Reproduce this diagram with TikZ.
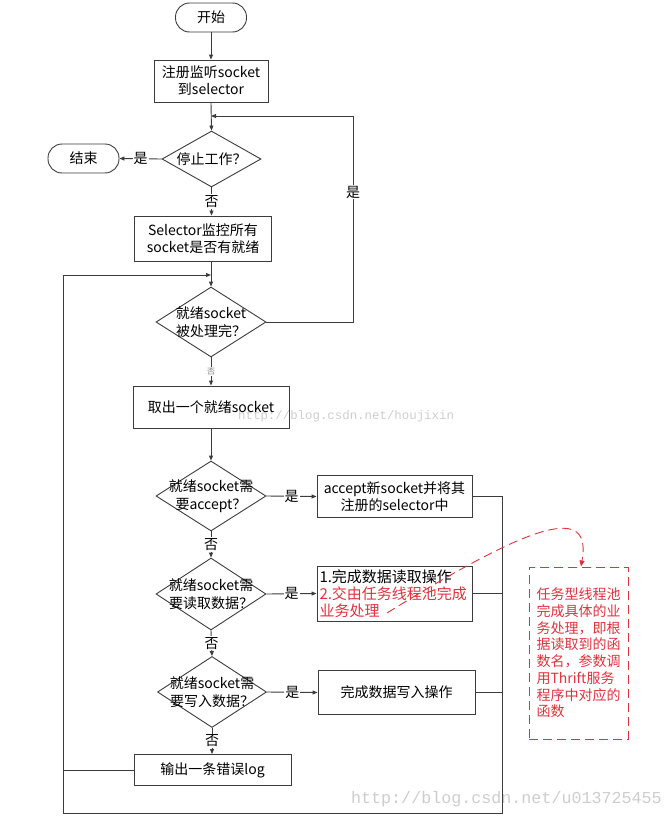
\documentclass[tikz,border=0pt]{standalone}
\usepackage{fontspec}
\setmainfont{Noto Sans CJK SC}
\newfontfamily\wmfont{Liberation Mono}
\usetikzlibrary{shapes.geometric,arrows.meta}
\definecolor{ln}{HTML}{3C3C3C}
\definecolor{rd}{HTML}{E0323C}
\definecolor{wm}{HTML}{CDCDCD}
\begin{document}
\begin{tikzpicture}[x=1pt,y=-1pt,
  every node/.style={font=\fontsize{14}{17}\selectfont, text=black},
  term/.style={draw=ln, line width=0.9pt, rounded corners=14pt, minimum height=29pt, minimum width=71pt, inner sep=0pt},
  box/.style={draw=ln, line width=0.9pt, align=center, inner sep=2pt},
  dia/.style={draw=ln, line width=0.9pt, diamond, inner sep=0pt, minimum width=110pt, minimum height=70pt},
  dtext/.style={align=center, inner sep=0pt, font=\fontsize{14}{18}\selectfont},
  conn/.style={draw=ln, line width=0.9pt},
  arr/.style={conn, -{Triangle[length=5pt,width=4pt]}},
  lbl/.style={fill=white, inner sep=1pt},
  note/.style={draw=rd, color=rd, line width=1pt, dash pattern=on 9pt off 5pt, text=rd, align=left, minimum width=99pt, minimum height=172pt, inner sep=3pt, font=\fontsize{14}{16.7}\selectfont},
  wmtext/.style={text=wm, inner sep=0pt}
]
\useasboundingbox (0,0) rectangle (668,819);

% watermarks (behind everything)
\node[wmtext, anchor=west, font=\wmfont\fontsize{12.4}{14}\selectfont] (wm1) at (238,416) {http://blog.csdn.net/houjixin};
\node[wmtext, anchor=east, font=\wmfont\fontsize{16.7}{19}\selectfont] (wm2) at (662,799) {http://blog.csdn.net/u013725455};

% nodes
\node[term] (start) at (211,17.5) {开始};
\node[term] (end) at (83.5,158.5) {结束};
\node[box, minimum width=114pt, minimum height=42pt] (reg) at (211,81) {注册监听socket\\到selector};
\node[dia, minimum width=99pt, minimum height=56pt] (d1) at (211.5,159) {};
\node[dtext] (d1t) at (d1) {停止工作？};
\node[box, minimum width=137pt, minimum height=45pt] (sel) at (203,238.5) {Selector监控所有\\socket是否有就绪};
\node[dia] (d2) at (211,322) {};
\node[dtext] (d2t) at (d2) {就绪socket\\被处理完？};
\node[box, minimum width=156pt, minimum height=42pt] (take) at (211,407) {取出一个就绪socket};
\node[dia] (d3) at (211,496) {};
\node[dtext] (d3t) at (d3) {就绪socket需\\要accept？};
\node[box, minimum width=155pt, minimum height=42pt] (acc) at (394.5,496.5) {accept新socket并将其\\注册的selector中};
\node[dia, minimum height=72pt] (d4) at (211,594) {};
\node[dtext] (d4t) at (d4) {就绪socket需\\要读取数据？};
\node[box, minimum width=155pt, minimum height=55pt, align=left, text width=150pt, inner sep=2.5pt, font=\fontsize{15}{17}\selectfont] (rdb) at (394.5,593.5) {1.完成数据读取操作\\\textcolor{rd}{2.交由任务线程池完成}\\\textcolor{rd}{业务处理}};
\node[dia, minimum width=109pt, minimum height=71pt] (d5) at (212,692) {};
\node[dtext] (d5t) at (d5) {就绪socket需\\要写入数据？};
\node[box, minimum width=157pt, minimum height=44pt] (wr) at (396.5,692.5) {完成数据写入操作};
\node[box, minimum width=157pt, minimum height=31pt] (err) at (212.5,770) {输出一条错误log};
\node[note] (nt) at (578.5,653) {任务型线程池\\完成具体的业\\务处理，即根\\据读取到的函\\数名，参数调\\用Thrift服务\\程序中对应的\\函数};

% junction coordinates
\coordinate (j1) at (211,116);
\coordinate (r1) at (353,116);
\coordinate (j2) at (211,275);
\coordinate (lb) at (63,813);
\coordinate (rb) at (502,813);
\coordinate (cs) at (387,613);

% connectors
\draw[arr] (start) -- (reg);
\draw[arr] (reg.south) -- (d1.north);
\draw[arr] (d1.west) -- node[lbl]{是} (end.east);
\draw[arr] (d1.south) -- node[lbl]{否} (d1.south |- sel.north);
\draw[arr] (d2.north |- sel.south) -- (d2.north);
\draw[arr] (d2.east) -| node[lbl, pos=0.815]{是} (r1) -- (j1);
\draw[arr] (d2.south) -- node[lbl, text=gray, font=\fontsize{8}{9}\selectfont]{否} (take.north);
\draw[arr] (take.south) -- (d3.north);
\draw[arr] (d3.east) -- node[lbl]{是} (acc.west);
\draw[arr] (d3.south) -- node[lbl]{否} (d4.north);
\draw[arr] (d4.east) -- node[lbl]{是} (rdb.west);
\draw[arr] (d4.south) -- node[lbl]{否} (d5.north);
\draw[arr] (d5.east) -- node[lbl]{是} (wr.west);
\draw[arr] (d5.south) -- node[lbl]{否} (d5.south |- err.north);
\draw[arr] (acc.east) -| (rb) -- (lb) |- (j2);
\draw[conn] (rdb.east) -- (rdb.east -| rb);
\draw[conn] (wr.east) -- (wr.east -| rb);
\draw[conn] (err.west) -- (err.west -| lb);

% red dashed annotation arrow
\draw[rd, line width=0.9pt, dash pattern=on 9pt off 5pt, -{Triangle[length=6pt,width=5pt]}]
  (cs) .. controls (537,520) and (592,505) .. ([xshift=2.5pt]nt.north);
\end{tikzpicture}
\end{document}
